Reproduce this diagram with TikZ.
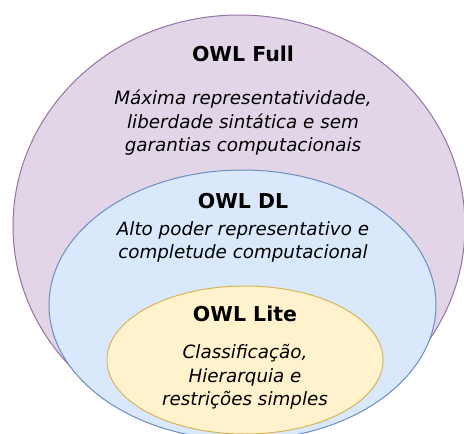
\documentclass[tikz,border=0pt]{standalone}
\usepackage{fontspec}
\setmainfont{DejaVu Sans}
\usetikzlibrary{shapes.geometric}

\definecolor{fullfill}{HTML}{E1D5E7}
\definecolor{fullline}{HTML}{9673A6}
\definecolor{dlfill}{HTML}{DAE8FC}
\definecolor{dlline}{HTML}{6C8EBF}
\definecolor{litefill}{HTML}{FFF2CC}
\definecolor{liteline}{HTML}{D6B656}

\begin{document}
\begin{tikzpicture}[x=1pt,y=-1pt,
    level/.style={ellipse, draw, line width=1pt, inner sep=0pt},
    title/.style={font=\fontsize{20.5}{24}\selectfont\bfseries},
    desc/.style={align=center, font=\fontsize{18.3}{23.5}\selectfont\itshape}]
        \clip (0, 0) rectangle (464, 434);
        \fill[white] (0, 0) rectangle (464, 434);

        \node[level, fill=fullfill, draw=fullline, minimum width=452pt, minimum height=422pt] (full) at (239, 226) {};
        \node[level, fill=dlfill, draw=dlline, minimum width=387pt, minimum height=270pt] (dl) at (242.5, 305) {};
        \node[level, fill=litefill, draw=liteline, minimum width=276pt, minimum height=148pt] (lite) at (245, 360) {};

        \node[title] (fulltitle) at (243, 54) {OWL Full};
        \node[desc] (fulltext) at (243, 123) {Máxima representatividade,\\ liberdade sintática e sem\\ garantias computacionais};

        \node[title] (dltitle) at (243, 201) {OWL DL};
        \node[desc] (dltext) at (243, 242) {Alto poder representativo e\\ completude computacional};

        \node[title] (litetitle) at (245, 314) {OWL Lite};
        \node[desc] (litetext) at (245, 377) {Classificação,\\ Hierarquia e\\ restrições simples};

    \end{tikzpicture}
\end{document}
